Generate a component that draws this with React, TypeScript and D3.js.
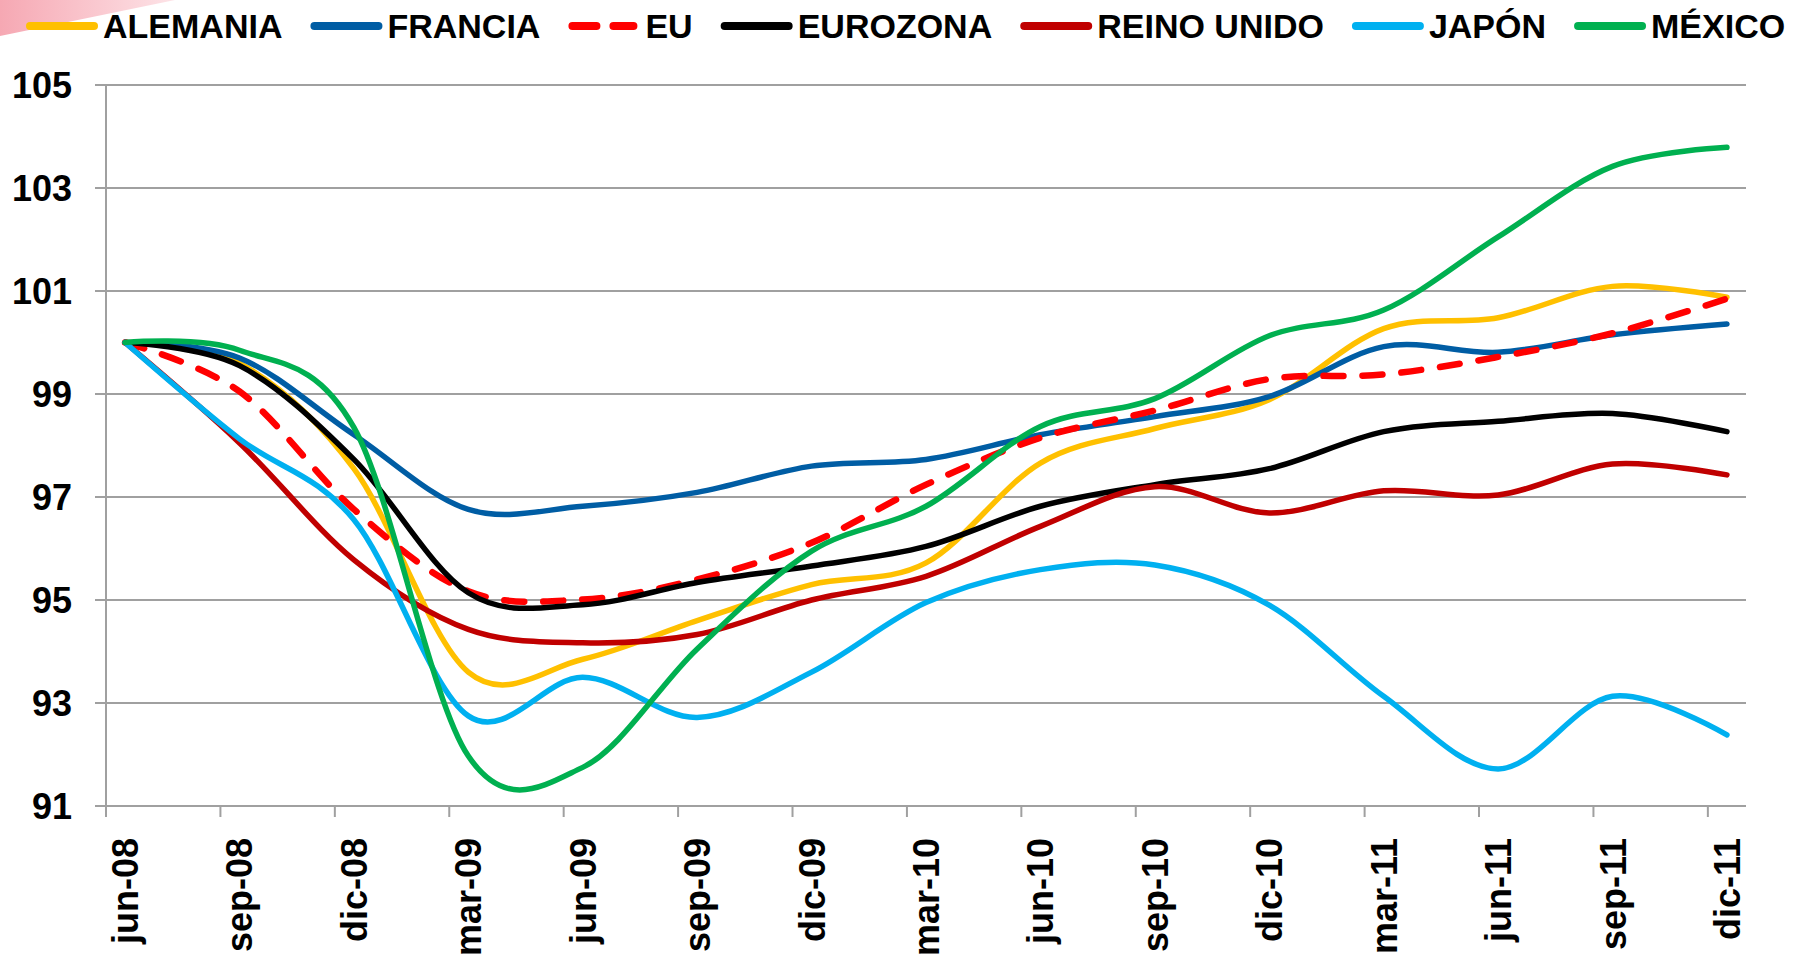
import React, { useRef, useEffect } from "react";
import * as d3 from "d3";

// trimestres (eje de fechas con base mensual)
const quarters = [
  "jun-08", "sep-08", "dic-08", "mar-09", "jun-09", "sep-09", "dic-09", "mar-10",
  "jun-10", "sep-10", "dic-10", "mar-11", "jun-11", "sep-11", "dic-11",
];

const alemania = [100, 99.6, 97.55, 93.6, 93.85, 94.6, 95.3, 95.72, 97.66, 98.33, 98.89, 100.27, 100.48, 101.09, 100.88];
const francia = [100, 99.7, 98.21, 96.76, 96.82, 97.09, 97.6, 97.73, 98.21, 98.56, 98.95, 99.92, 99.81, 100.15, 100.36];
const eu = [100, 99.05, 96.76, 95.17, 95.01, 95.4, 96.11, 97.24, 98.15, 98.68, 99.29, 99.38, 99.72, 100.18, 100.85];
const eurozona = [100, 99.55, 97.73, 95.14, 94.91, 95.34, 95.66, 96.04, 96.82, 97.24, 97.55, 98.27, 98.47, 98.62, 98.27];
const reinoUnido = [100, 98.05, 95.78, 94.43, 94.17, 94.33, 95.0, 95.46, 96.43, 97.2, 96.69, 97.12, 97.04, 97.64, 97.43];
const japon = [100, 98.13, 96.56, 92.75, 93.5, 92.72, 93.6, 94.95, 95.59, 95.68, 94.9, 93.13, 91.72, 93.13, 92.38];
const mexico = [100, 99.85, 98.35, 91.97, 91.75, 94.05, 95.95, 96.82, 98.37, 98.91, 100.13, 100.63, 102.05, 103.42, 103.79];

const seriesNames = ["ALEMANIA", "FRANCIA", "EU", "EUROZONA", "REINO UNIDO", "JAPÓN", "MÉXICO"];
const seriesValues = [alemania, francia, eu, eurozona, reinoUnido, japon, mexico];
const seriesColors = ["#FFC000", "#005DA4", "#FF0000", "#000000", "#C00000", "#00B0F0", "#00B050"];

const yTicks = [91, 93, 95, 97, 99, 101, 103, 105];

export default function App() {
  const svgRef = useRef<SVGSVGElement>(null);

  useEffect(() => {
    const svg = d3.select(svgRef.current);
    svg.selectAll("*").remove();

    const left = 106;
    const right = 1746;
    const top = 85;
    const bottom = 806;
    const font = "Arial, 'Liberation Sans', sans-serif";

    // meses: jun-08 .. dic-11
    const nMonths = quarters.length * 3 - 2;
    const x = d3.scaleLinear().domain([0, nMonths]).range([left, right]);
    const y = d3.scaleLinear().domain([91, 105]).range([bottom, top]);

    // adorno rosado arriba a la izquierda
    const defs = svg.append("defs");
    const grad = defs
      .append("linearGradient")
      .attr("id", "pinkFade")
      .attr("x1", 0)
      .attr("y1", 0)
      .attr("x2", 1)
      .attr("y2", 0);
    grad.append("stop").attr("offset", "0%").attr("stop-color", "#f6a8b3");
    grad.append("stop").attr("offset", "100%").attr("stop-color", "#fde3e7");
    svg.append("path").attr("d", "M0,0 L175,0 L0,36 Z").attr("fill", "url(#pinkFade)");

    // rejilla horizontal
    svg
      .append("g")
      .selectAll("line")
      .data(yTicks)
      .join("line")
      .attr("x1", left - 11)
      .attr("x2", right)
      .attr("y1", (d) => y(d))
      .attr("y2", (d) => y(d))
      .attr("stroke", "#a0a0a0")
      .attr("stroke-width", 2);

    // eje y
    svg
      .append("line")
      .attr("x1", left)
      .attr("x2", left)
      .attr("y1", top)
      .attr("y2", bottom)
      .attr("stroke", "#a0a0a0")
      .attr("stroke-width", 2);

    svg
      .append("g")
      .selectAll("text")
      .data(yTicks)
      .join("text")
      .attr("x", 72)
      .attr("y", (d) => y(d) + 13)
      .attr("text-anchor", "end")
      .attr("font-family", font)
      .attr("font-weight", "bold")
      .attr("font-size", 36)
      .text((d) => d);

    // marcas del eje x cada trimestre
    const tickMonths = quarters.map((q, i) => i * 3);
    svg
      .append("g")
      .selectAll("line")
      .data(tickMonths)
      .join("line")
      .attr("x1", (d) => x(d))
      .attr("x2", (d) => x(d))
      .attr("y1", bottom)
      .attr("y2", bottom + 11)
      .attr("stroke", "#a0a0a0")
      .attr("stroke-width", 2);

    svg
      .append("g")
      .selectAll("text")
      .data(quarters)
      .join("text")
      .attr("transform", (d, i) => `translate(${x(i * 3 + 0.5)}, 838) rotate(-90)`)
      .attr("dy", 13)
      .attr("text-anchor", "end")
      .attr("font-family", font)
      .attr("font-weight", "bold")
      .attr("font-size", 36)
      .text((d) => d);

    // líneas suavizadas
    const line = d3
      .line<number>()
      .x((d, i) => x(i * 3 + 0.5))
      .y((d) => y(d))
      .curve(d3.curveCardinal.tension(0));

    seriesValues.forEach((vals, k) => {
      const p = svg
        .append("path")
        .attr("d", line(vals))
        .attr("fill", "none")
        .attr("stroke", seriesColors[k])
        .attr("stroke-width", k === 2 ? 6.5 : 5.5)
        .attr("stroke-linecap", "round")
        .attr("stroke-linejoin", "round");
      if (k === 2) p.attr("stroke-dasharray", "20 19");
    });

    // leyenda
    let lx = 26;
    seriesNames.forEach((name, k) => {
      const g = svg.append("g");
      const l = g
        .append("line")
        .attr("x1", lx + 4)
        .attr("x2", lx + 68)
        .attr("y1", 26)
        .attr("y2", 26)
        .attr("stroke", seriesColors[k])
        .attr("stroke-width", 8)
        .attr("stroke-linecap", "round");
      if (k === 2) l.attr("x2", lx + 65).attr("stroke-dasharray", "24 17");
      const t = g
        .append("text")
        .attr("x", lx + 77)
        .attr("y", 38)
        .attr("font-family", font)
        .attr("font-weight", "bold")
        .attr("font-size", 34)
        .text(name);
      const w = (t.node() as SVGTextElement).getComputedTextLength();
      lx = lx + 77 + w + 28;
    });
  }, []);

  return (
    <svg
      ref={svgRef}
      width={1803}
      height={959}
      style={{ position: "fixed", left: 0, top: 0, background: "#fff" }}
    />
  );
}
